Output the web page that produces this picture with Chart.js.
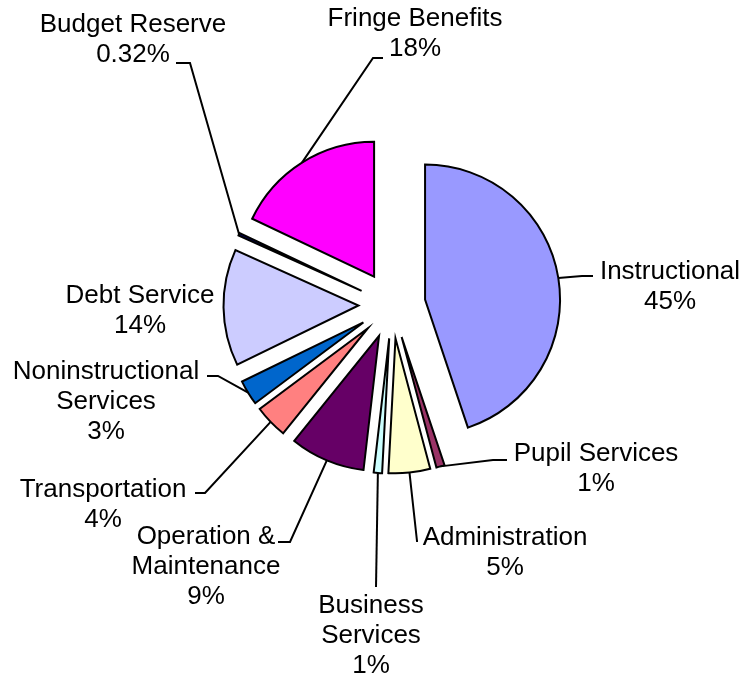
<!DOCTYPE html>
<html>
<head>
<meta charset="utf-8">
<title>Budget by Function</title>
<script src="https://cdn.jsdelivr.net/npm/chart.js@4.4.0/dist/chart.umd.min.js"></script>
<style>
  html, body { margin: 0; padding: 0; background: #fff; }
  canvas { display: block; }
</style>
</head>
<body>
<canvas id="budgetChart" width="752" height="677"></canvas>
<script>
// --------------------
// Data (clockwise from 12 o'clock)
// --------------------
const categories = [
  'Instructional', 'Pupil Services', 'Administration', 'Business\nServices',
  'Operation &\nMaintenance', 'Transportation', 'Noninstructional\nServices',
  'Debt Service', 'Budget Reserve', 'Fringe Benefits'
];
const shares = [45, 1, 5, 1, 9, 4, 3, 14, 0.32, 18];

// --------------------
// Styles / label layout
// --------------------
const sliceColors = [
  '#9999FF', '#993366', '#FFFFCC', '#CCFFFF', '#660066',
  '#FF8080', '#0066CC', '#CCCCFF', '#000080', '#FF00FF'
];
// label centre x, middle of first text line y
const labelSpots = [
  [670, 272], [596, 454], [505, 538], [371, 606], [206, 537],
  [103, 490], [106, 372], [140, 296], [133, 25], [415, 19]
];
// leader line: [end x, end y, bend x, bend y] (null = no line)
const leaderBends = [
  [593, 276, 582, 276], [507, 460, 493, 460], [418, 541, 417, 541],
  [376, 587, 376, 587], [278, 542, 290, 542], [195, 493, 205, 493],
  [207, 376, 218, 376], null, [176, 63, 190, 63], [383, 58, 373, 58]
];

const EXPLODE = 33.5;
const FONT = '26px "Liberation Sans", Arial, sans-serif';
const LINE_H = 30;

// --------------------
// Plugin: pull every slice out from the centre
// --------------------
const explodePlugin = {
  id: 'explode',
  beforeDatasetsDraw(chart) {
    const area = chart.chartArea;
    const cx = (area.left + area.right) / 2;
    const cy = (area.top + area.bottom) / 2;
    chart.getDatasetMeta(0).data.forEach(arc => {
      const mid = (arc.startAngle + arc.endAngle) / 2;
      arc.x = cx + Math.cos(mid) * EXPLODE;
      arc.y = cy + Math.sin(mid) * EXPLODE;
    });
  }
};

// --------------------
// Plugin: outside labels with leader lines
// --------------------
const labelPlugin = {
  id: 'outsideLabels',
  afterDatasetsDraw(chart) {
    const ctx = chart.ctx;
    const arcs = chart.getDatasetMeta(0).data;
    ctx.save();
    ctx.strokeStyle = '#000';
    ctx.lineWidth = 2;
    arcs.forEach((arc, i) => {
      const b = leaderBends[i];
      if (!b) return;
      const mid = (arc.startAngle + arc.endAngle) / 2;
      const px = arc.x + Math.cos(mid) * arc.outerRadius;
      const py = arc.y + Math.sin(mid) * arc.outerRadius;
      ctx.beginPath();
      ctx.moveTo(b[0], b[1]);
      ctx.lineTo(b[2], b[3]);
      ctx.lineTo(px, py);
      ctx.stroke();
    });

    ctx.fillStyle = '#000';
    ctx.font = FONT;
    ctx.textAlign = 'center';
    ctx.textBaseline = 'middle';
    categories.forEach((name, i) => {
      const lines = name.split('\n').concat([shares[i] + '%']);
      const [x, y] = labelSpots[i];
      lines.forEach((t, k) => ctx.fillText(t, x, y + k * LINE_H));
    });
    ctx.restore();
  }
};

const ctx = document.getElementById('budgetChart').getContext('2d');
new Chart(ctx, {
  type: 'pie',
  data: {
    labels: categories,
    datasets: [{
      data: shares,
      backgroundColor: sliceColors,
      borderColor: '#000',
      borderWidth: 2,
      borderJoinStyle: 'miter'
    }]
  },
  options: {
    responsive: false,
    animation: false,
    events: [],
    radius: 135,
    layout: { padding: { left: 100, right: 68, top: 100, bottom: 167 } },
    plugins: {
      legend: { display: false },
      tooltip: { enabled: false }
    }
  },
  plugins: [explodePlugin, labelPlugin]
});
</script>
</body>
</html>
